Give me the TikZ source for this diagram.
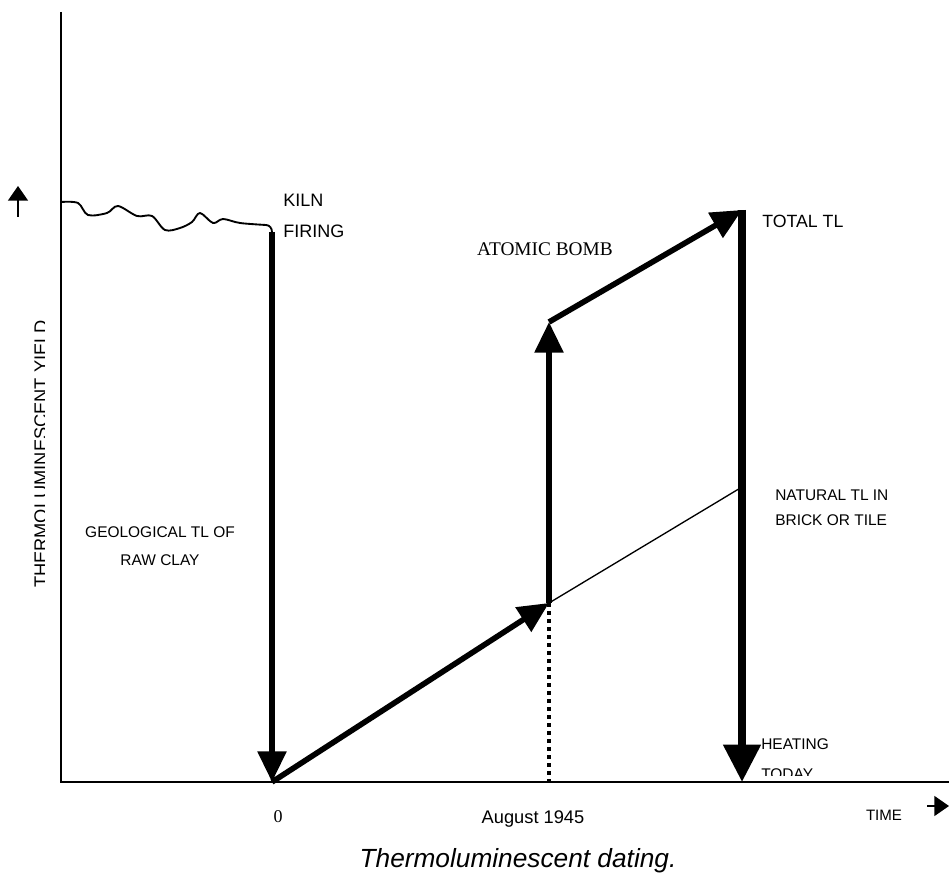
\documentclass[tikz,border=0pt]{standalone}
\usepackage{fontspec}
\setmainfont{Liberation Sans}
\newfontfamily\serifface{Liberation Serif}
\usetikzlibrary{arrows.meta,positioning}
\tikzset{
  axisLine/.style={line width=1.1pt},
  smallArrow/.style={-{Triangle[length=11pt,width=15pt]}, line width=1.1pt},
  yieldArrow/.style={-{Triangle[length=23pt,width=21pt]}, line width=4.2pt},
  heatArrow/.style={-{Triangle[length=28pt,width=27pt]}, line width=5.8pt},
  thinLine/.style={line width=1pt},
  waveLine/.style={line width=1.4pt, line join=round},
  dropLine/.style={line width=3pt, dash pattern=on 3pt off 3pt},
  lbl/.style={inner sep=0pt, font=\fontsize{11.6pt}{14pt}\selectfont},
  bigLbl/.style={inner sep=0pt, font=\fontsize{13.5pt}{16pt}\selectfont},
  serifLbl/.style={inner sep=0pt, font=\serifface\fontsize{14.5pt}{17pt}\selectfont}
}
\begin{document}
\begin{tikzpicture}[x=0.75pt, y=-0.75pt]
  \useasboundingbox (0,0) rectangle (949,873);

  % Axes
  \coordinate (ytop) at (61,12);
  \coordinate (orig) at (61,782);
  \coordinate (xend) at (949,782);
  \draw[axisLine] (ytop) -- (orig) -- (xend);
  \coordinate (upA) at (18,217);
  \coordinate (upB) at (18,186);
  \draw[smallArrow] (upA) -- (upB);
  \coordinate (timeA) at (927,806);
  \coordinate (timeB) at (949,806);
  \draw[smallArrow] (timeA) -- (timeB);

  % Key points
  \coordinate (kiln) at (272,232);
  \coordinate (zero) at (272,782);
  \coordinate (bomb) at (549,603);
  \coordinate (bombtop) at (549,322);
  \coordinate (total) at (742,210);
  \coordinate (heat) at (742,782);
  \coordinate (natend) at (742,487);
  \coordinate (augfoot) at (549,782);

  % Geological TL of the raw clay
  \draw[waveLine] plot[smooth, tension=0.55] coordinates {(61,202) (78,203) (88,215) (107,213) (118,206)
    (137,216) (152,216) (165,230) (180,228) (192,222) (200,213) (213,223) (223,219) (240,223) (266,225)}
    to[out=0, in=90] (kiln);

  % Firing, build-up, bomb, heating
  \draw[yieldArrow] (kiln) -- (zero);
  \draw[yieldArrow] (zero) -- (bomb);
  \draw[thinLine] (bomb) -- (natend);
  \draw[dropLine] (bomb) -- (augfoot);
  \draw[yieldArrow] (bomb) -- (bombtop);
  \draw[yieldArrow] (bombtop) -- (total);
  \draw[heatArrow] (total) -- (heat);

  % Labels
  \begin{scope}
    \clip (0,300) rectangle (44,620);
    \node[anchor=base, rotate=90, inner sep=0pt, font=\fontsize{13.7pt}{16pt}\selectfont] (ylab) at (47,454) {THERMOLUMINESCENT YIELD};
  \end{scope}
  \node[bigLbl, anchor=base west] (kilnlab) at (283,207) {KILN};
  \node[bigLbl, anchor=base west] (firelab) at (283,238) {FIRING};
  \node[serifLbl, anchor=base] (bomblab) at (545,256) {ATOMIC BOMB};
  \node[bigLbl, anchor=base west, font=\fontsize{13.3pt}{16pt}\selectfont] (totlab) at (762,228) {TOTAL TL};
  \node[lbl, anchor=base] (geolab) at (160,537) {GEOLOGICAL TL OF};
  \node[lbl, anchor=base] (claylab) at (160,565) {RAW CLAY};
  \node[lbl, anchor=base west] (natlab) at (775,500) {NATURAL TL IN};
  \node[lbl, anchor=base west] (bricklab) at (775,525) {BRICK OR TILE};
  \node[lbl, anchor=base west] (heatlab) at (761,749) {HEATING};
  \begin{scope}
    \clip (750,755) rectangle (900,775);
    \node[lbl, anchor=base west] (todaylab) at (761,779) {TODAY};
  \end{scope}
  \node[anchor=base, inner sep=0pt, font=\serifface\fontsize{13.5pt}{16pt}\selectfont] (zerolab) at (278,822) {0};
  \node[bigLbl, anchor=base, font=\fontsize{13.7pt}{16pt}\selectfont] (auglab) at (533,823) {August 1945};
  \node[lbl, anchor=base, font=\fontsize{11.3pt}{14pt}\selectfont] (timelab) at (884,820) {TIME};
  \node[anchor=base, inner sep=0pt, font=\itshape\fontsize{19.7pt}{23pt}\selectfont] (caption) at (518,867) {Thermoluminescent dating.};
\end{tikzpicture}
\end{document}
